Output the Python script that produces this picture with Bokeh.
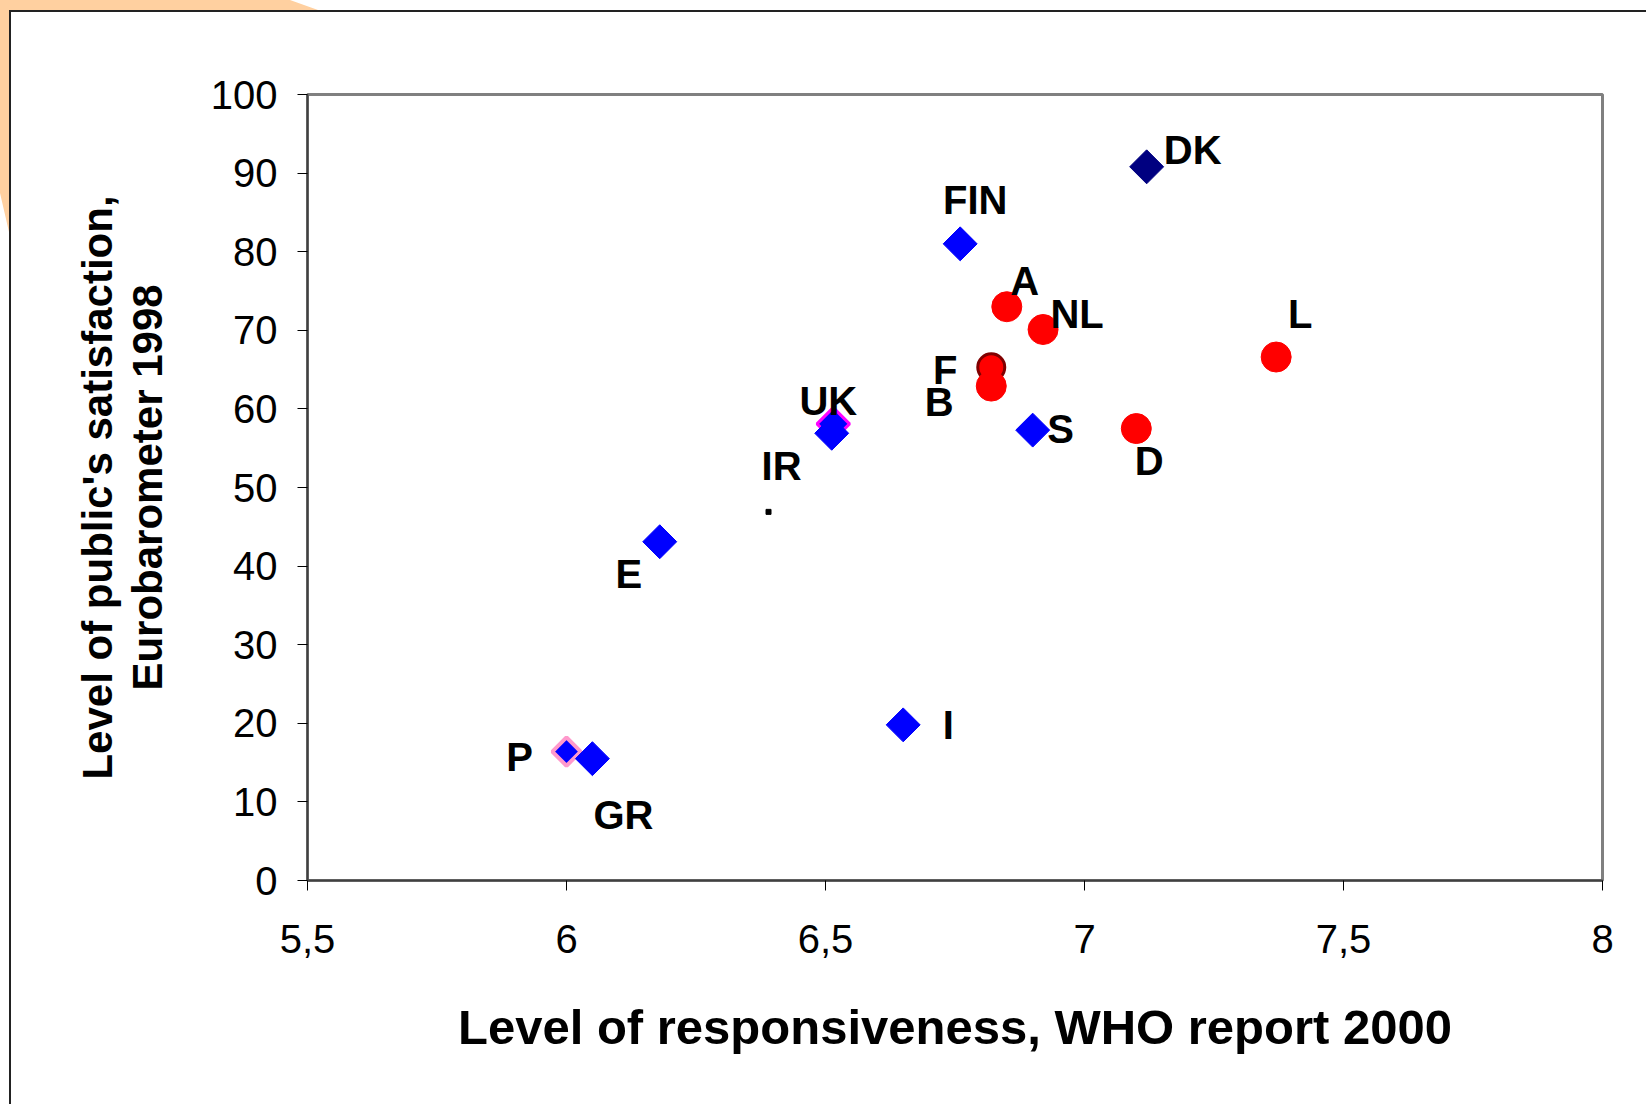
import numpy as np
from bokeh.plotting import figure
from bokeh.models import (ColumnDataSource, FixedTicker, CustomJSTickFormatter,
                          Range1d, InlineStyleSheet)
from bokeh.core.properties import value
from bokeh.embed import file_html
from bokeh.resources import INLINE

# ---------------- data ----------------
countries = ["DK", "FIN", "A", "NL", "L", "F", "B", "S", "D", "UK", "IR", "E", "I", "P", "GR"]
responsiveness = [7.12, 6.76, 6.85, 6.92, 7.37, 6.82, 6.82, 6.90, 7.10, 6.515, 6.39, 6.18, 6.65, 6.00, 6.05]
satisfaction = [90.8, 81.0, 73.0, 70.1, 66.6, 65.3, 62.9, 57.3, 57.5, 58.1, 46.9, 43.1, 19.8, 16.4, 15.5]
# second (unlabelled) UK point drawn just under the outlined one
uk_extra_x = [6.512]
uk_extra_y = [56.9]

x_ticks = [5.5, 6.0, 6.5, 7.0, 7.5, 8.0]
y_ticks = [0, 10, 20, 30, 40, 50, 60, 70, 80, 90, 100]

# marker groups (by country name)
blue_diamonds = ["FIN", "S", "E", "I", "GR"]
navy_diamonds = ["DK"]
red_circles = ["A", "NL", "L", "B", "D"]
outlined_circles = ["F"]
pink_diamonds = ["P"]
magenta_diamonds = ["UK"]
dots = ["IR"]

# label offsets in pixels (dx right, dy down)
label_offsets = {
    "DK": (46, -17), "FIN": (15, -44), "A": (18, -26), "NL": (34, -16),
    "L": (24, -43), "F": (-46, 3), "B": (-52, 16), "S": (28, -1),
    "D": (13, 32), "UK": (-5, -23), "IR": (13, -46), "E": (-31, 32),
    "I": (45, 0), "P": (-47, 5), "GR": (31, 56),
}

FONT = "Liberation Sans"


def subset(names):
    idx = [countries.index(n) for n in names]
    return ColumnDataSource(dict(x=[responsiveness[i] for i in idx],
                                 y=[satisfaction[i] for i in idx]))


p = figure(width=1630, height=1088, output_backend="svg", toolbar_location=None,
           x_range=Range1d(5.5, 8.0), y_range=Range1d(0, 100),
           min_border_left=307, min_border_right=28, min_border_top=94,
           min_border_bottom=208)

p.xgrid.visible = False
p.ygrid.visible = False
p.background_fill_color = "white"
p.border_fill_color = "white"
p.outline_line_color = "#808080"
p.outline_line_width = 3

# decorative peach corner and outer chart frame (page decoration)
p.stylesheets = [InlineStyleSheet(css="""
:host { position: relative; }
:host::after {
  content: ''; position: absolute; left: 0; top: 0; width: 330px; height: 240px;
  background: #FFD0A0; pointer-events: none; z-index: 5;
  clip-path: polygon(0 0, 290px 0, 318px 10px, 9px 10px, 9px 232px, 0 193px);
}
:host::before {
  content: ''; position: absolute; left: 9px; top: 10px; right: -200px; bottom: -200px;
  border-left: 2px solid #222; border-top: 2px solid #222;
  pointer-events: none; z-index: 6;
}
""")]

# markers
sq = dict(marker="square", angle=np.pi / 4)
p.scatter("x", "y", source=subset(magenta_diamonds), size=23, fill_color="#0000FF",
          line_color="#FF00FF", line_width=3, **sq)
p.scatter(uk_extra_x, uk_extra_y, size=24, fill_color="#0000FF", line_color="#0000FF", **sq)
p.scatter("x", "y", source=subset(pink_diamonds), size=20, fill_color="#0000FF",
          line_color="#FF99CC", line_width=4, **sq)
p.scatter("x", "y", source=subset(blue_diamonds), size=24, fill_color="#0000FF",
          line_color="#0000FF", **sq)
p.scatter("x", "y", source=subset(navy_diamonds), size=24, fill_color="#000080",
          line_color="#000080", **sq)
p.scatter("x", "y", source=subset(outlined_circles), size=27, fill_color="#FF0000",
          line_color="#800000", line_width=3)
p.scatter("x", "y", source=subset(red_circles), size=30, fill_color="#FF0000",
          line_color="#FF0000")
p.scatter("x", "y", source=subset(dots), size=5, marker="square",
          fill_color="black", line_color="black")

# country labels
lab = ColumnDataSource(dict(
    x=responsiveness, y=satisfaction, text=countries,
    dx=[label_offsets[c][0] for c in countries],
    dy=[label_offsets[c][1] for c in countries],
))
p.text("x", "y", text="text", source=lab, x_offset="dx", y_offset="dy",
       text_align="center", text_baseline="middle", text_font=value(FONT),
       text_font_style="bold", text_font_size="40px", text_color="black")

# axes
for ax in (p.xaxis[0], p.yaxis[0]):
    ax.axis_line_color = "#404040"
    ax.axis_line_width = 2
    ax.major_tick_line_color = "black"
    ax.major_tick_line_width = 1
    ax.major_tick_out = 10
    ax.major_tick_in = 0
    ax.minor_tick_line_color = None
    ax.major_label_text_font = FONT
    ax.major_label_text_font_size = "40px"
    ax.major_label_text_color = "black"
    ax.axis_label_text_font = FONT
    ax.axis_label_text_font_style = "bold"
    ax.axis_label_text_color = "black"

p.xaxis.ticker = FixedTicker(ticks=x_ticks)
p.yaxis.ticker = FixedTicker(ticks=y_ticks)
p.xaxis.formatter = CustomJSTickFormatter(code="return tick.toString().replace('.', ',');")
p.xaxis.major_label_standoff = 34
p.yaxis.major_label_standoff = 20

p.xaxis.axis_label = "Level of responsiveness, WHO report 2000"
p.xaxis.axis_label_text_font_size = "49px"
p.xaxis.axis_label_standoff = 44

p.yaxis.axis_label = "Level of public's satisfaction,\nEurobarometer 1998"
p.yaxis.axis_label_text_font_size = "42px"
p.yaxis.axis_label_text_line_height = 1.05
p.yaxis.axis_label_standoff = 37

open("out.html", "w").write(file_html(p, INLINE))
